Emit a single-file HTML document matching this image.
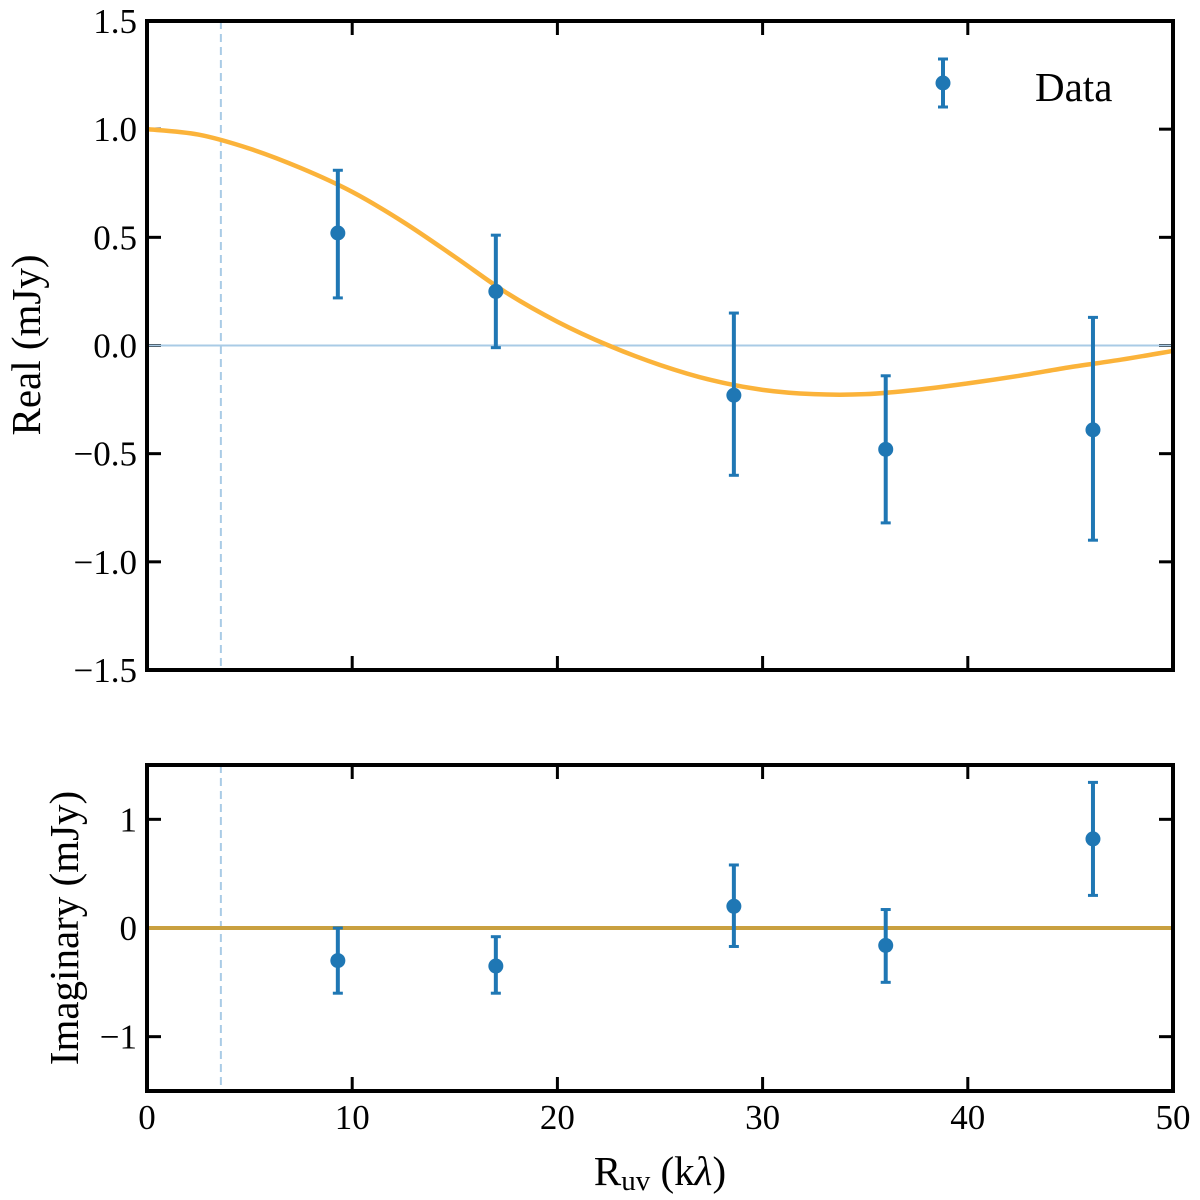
<!DOCTYPE html>
<html><head><meta charset="utf-8"><style>
html,body{margin:0;padding:0;background:#fff;}
svg{display:block;font-family:"Liberation Serif",serif;}
</style></head><body>
<svg id="chart" width="1200" height="1200" viewBox="0 0 1200 1200"></svg>
<script>
const xs = [9.3, 17.0, 28.6, 36.0, 46.1];
const realVals = [0.52, 0.25, -0.23, -0.48, -0.39];
const realLo = [0.22, -0.01, -0.60, -0.82, -0.90];
const realHi = [0.81, 0.51, 0.15, -0.14, 0.13];
const imagVals = [-0.30, -0.35, 0.20, -0.16, 0.82];
const imagLo = [-0.60, -0.60, -0.17, -0.50, 0.30];
const imagHi = [0.00, -0.08, 0.58, 0.17, 1.34];
const modelX = [0,2.5,5,7.5,10,12.5,15,17.5,20,22.5,25,27.5,30,32.5,35,37.5,40,42.5,45,47.5,50];
const modelY = [1.00,0.975,0.91,0.82,0.71,0.57,0.41,0.245,0.11,0.00,-0.09,-0.16,-0.205,-0.225,-0.225,-0.205,-0.175,-0.14,-0.10,-0.065,-0.025];
const xTicks = [0,10,20,30,40,50];
const realTicks = [1.5,1.0,0.5,0.0,-0.5,-1.0,-1.5];
const imagTicks = [1,0,-1];
const beamX = 3.6;

const NS="http://www.w3.org/2000/svg";
const svg=document.getElementById('chart');
function mk(tag,attrs,parent){const e=document.createElementNS(NS,tag);for(const k in attrs)e.setAttribute(k,attrs[k]);(parent||svg).appendChild(e);return e;}
const L=147,R=1173;
const sx=v=>L+(v-0)/(50-0)*(R-L);
const topP={t:21,b:670}, botP={t:765,b:1091};
const syT=v=>topP.t+(1.5-v)/3*(topP.b-topP.t);
const syB=v=>botP.t+(1.5-v)/3*(botP.b-botP.t);
const blue="#1f77b4", orange="#fbb33a";
function fmt(v,d){let s=v.toFixed(d);if(v<0)s="\u2212"+s.slice(1);return s;}

function panel(p,sy,ticks,dec,name,showX){
  const g=mk('g',{});
  
  
  const d=mk('line',{x1:sx(beamX),x2:sx(beamX),y1:p.t,y2:p.b,stroke:'#a9cbe6','stroke-width':2,'stroke-dasharray':'8,5'},g);
  
  
  ticks.forEach(t=>{
    const y=sy(t);
    mk('line',{x1:L,x2:L+14,y1:y,y2:y,stroke:'#000','stroke-width':3},g);
    mk('line',{x1:R,x2:R-14,y1:y,y2:y,stroke:'#000','stroke-width':3},g);
    const tx=mk('text',{x:L-10,y:y+12,'text-anchor':'end','font-size':35},g);
    tx.textContent=fmt(t,dec);
    
    
  });
  xTicks.forEach(t=>{
    const x=sx(t);
    mk('line',{x1:x,x2:x,y1:p.b,y2:p.b-14,stroke:'#000','stroke-width':3},g);
    mk('line',{x1:x,x2:x,y1:p.t,y2:p.t+14,stroke:'#000','stroke-width':3},g);
    if(showX){const tx=mk('text',{x:x,y:p.b+38,'text-anchor':'middle','font-size':35},g);tx.textContent=String(t);
      
      }
  });
  return g;
}
const gT=panel(topP,syT,realTicks,1,'real-panel',false);
const gB=panel(botP,syB,imagTicks,0,'imaginary-panel',true);

const z1=mk('line',{x1:L,x2:R,y1:syT(0),y2:syT(0),stroke:'#a9cbe6','stroke-width':2},gT);


const z2=mk('line',{x1:L,x2:R,y1:syB(0),y2:syB(0),stroke:'#c9a040','stroke-width':4},gB);



const pts=modelX.map((x,i)=>[sx(x),syT(modelY[i])]);
let dstr=`M${pts[0][0]},${pts[0][1]}`;
for(let i=0;i<pts.length-1;i++){
  const p0=pts[Math.max(0,i-1)],p1=pts[i],p2=pts[i+1],p3=pts[Math.min(pts.length-1,i+2)];
  const c1=[p1[0]+(p2[0]-p0[0])/6,p1[1]+(p2[1]-p0[1])/6];
  const c2=[p2[0]-(p3[0]-p1[0])/6,p2[1]-(p3[1]-p1[1])/6];
  dstr+=` C${c1[0]},${c1[1]} ${c2[0]},${c2[1]} ${p2[0]},${p2[1]}`;
}
const mc=mk('path',{d:dstr,fill:'none',stroke:orange,'stroke-width':4.5},gT);



function errPts(g,sy,vals,lo,hi,name){
  xs.forEach((x,i)=>{
    const px=sx(x);
    const e=mk('g',{},g);
    
    
    mk('line',{x1:px,x2:px,y1:sy(lo[i]),y2:sy(hi[i]),stroke:blue,'stroke-width':4},e);
    mk('line',{x1:px-5,x2:px+5,y1:sy(lo[i]),y2:sy(lo[i]),stroke:blue,'stroke-width':3},e);
    mk('line',{x1:px-5,x2:px+5,y1:sy(hi[i]),y2:sy(hi[i]),stroke:blue,'stroke-width':3},e);
    mk('circle',{cx:px,cy:sy(vals[i]),r:7.5,fill:blue},e);
  });
}
errPts(gT,syT,realVals,realLo,realHi,'real-data-point');
errPts(gB,syB,imagVals,imagLo,imagHi,'imaginary-data-point');

[topP,botP].forEach(p=>{const f=mk('rect',{x:L,y:p.t,width:R-L,height:p.b-p.t,fill:'none',stroke:'#000','stroke-width':4});

});

const lg=mk('g',{});


mk('line',{x1:943,x2:943,y1:59,y2:107,stroke:blue,'stroke-width':4},lg);
mk('line',{x1:938,x2:948,y1:59,y2:59,stroke:blue,'stroke-width':3},lg);
mk('line',{x1:938,x2:948,y1:107,y2:107,stroke:blue,'stroke-width':3},lg);
mk('circle',{cx:943,cy:83,r:7.5,fill:blue},lg);
const lt=mk('text',{x:1035,y:101,'font-size':41},lg);lt.textContent='Data';



const yt=mk('text',{transform:'translate(40,345) rotate(-90)','text-anchor':'middle','font-size':41});yt.textContent='Real (mJy)';


const yb=mk('text',{transform:'translate(78,928) rotate(-90)','text-anchor':'middle','font-size':41});yb.textContent='Imaginary (mJy)';


const xt=mk('text',{x:660,y:1185,'text-anchor':'middle','font-size':41});
xt.innerHTML='R<tspan font-size="29" dy="5">uv</tspan><tspan dy="-5"> (k</tspan><tspan font-style="italic">λ</tspan>)';


</script>
</body></html>
